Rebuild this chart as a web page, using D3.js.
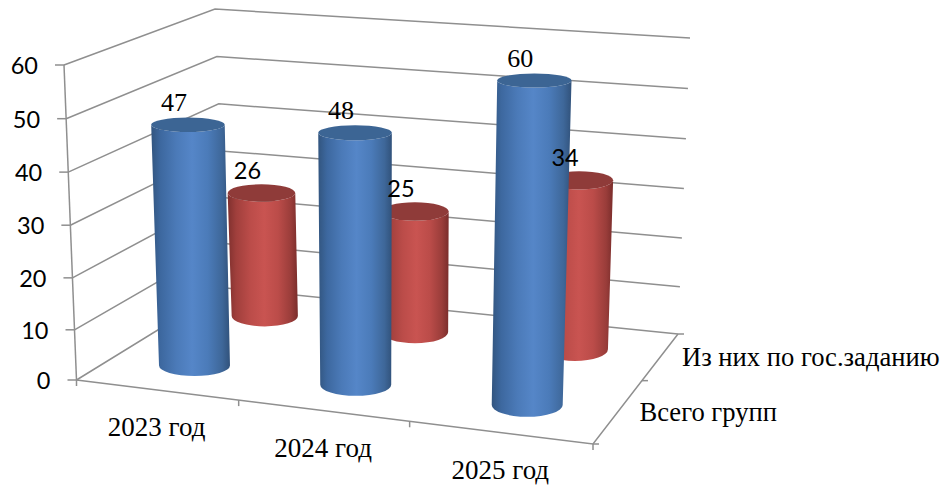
<!DOCTYPE html>
<html>
<head>
<meta charset="utf-8">
<script src="https://cdn.jsdelivr.net/npm/d3@7"></script>
<style>html,body{margin:0;padding:0;background:#fff}svg{display:block}</style>
</head>
<body>
<svg id="chart" width="942" height="486"></svg>
<script>
const categories = ["2023 год", "2024 год", "2025 год"];
const seriesNames = ["Всего групп", "Из них по гос.заданию"];
const totalGroups = [47, 48, 60];
const stateTask = [26, 25, 34];
const valueTicks = [0, 10, 20, 30, 40, 50, 60];

const serif = "'Liberation Serif'";
const sans = "Lato";

// 3D box corners on screen: [front-left, front-right, back-right, back-left]
const floorCorners = [[76.5, 380], [593, 444], [678, 334], [226, 288]];
const topCorners = [[64, 65], [604, 104], [690, 38], [215, 9]];

// Perspective-adjusted scales to unit-cube coordinates
const xScale = d3.scaleLinear().domain([0, 1, 2, 3]).range([0, 0.314, 0.645, 1]);
const zScale = d3.scaleLinear().domain([0, 1, 2]).range([0, 0.576, 1]);
const yScale = d3.scalePow().exponent(1.025).domain([0, 60]).range([0, 1]);

const lerp = (a, b, t) => [a[0] + (b[0] - a[0]) * t, a[1] + (b[1] - a[1]) * t];
function project(u, v, w) {
  const f = lerp(lerp(floorCorners[0], floorCorners[1], u), lerp(floorCorners[3], floorCorners[2], u), w);
  const t = lerp(lerp(topCorners[0], topCorners[1], u), lerp(topCorners[3], topCorners[2], u), w);
  return lerp(f, t, v);
}

const svg = d3.select("#chart");
const gridColor = "#8f8f8f";
const grid = svg.append("g").attr("fill", "none").attr("stroke", gridColor).attr("stroke-width", 1.5);
const line = d3.line();

// Wall gridlines
grid.selectAll("path.wall").data(valueTicks).join("path").attr("class", "wall")
  .attr("d", d => { const v = yScale(d); return line([project(0, v, 0), project(0, v, 1), project(1, v, 1)]); });
// Vertical axis + floor front and right edges
grid.append("path").attr("d", line([project(0, 1, 0), project(0, 0, 0)]));
grid.append("path").attr("d", line([project(0, 0, 0), project(1, 0, 0), project(1, 0, 1)]));

// Tick marks
grid.selectAll("path.vt").data(valueTicks).join("path").attr("class", "vt")
  .attr("d", d => { const p = project(0, yScale(d), 0); return line([[p[0] - 9, p[1]], p]); });
grid.selectAll("path.xt").data(d3.range(0, 4)).join("path").attr("class", "xt")
  .attr("d", d => { const p = project(xScale(d), 0, 0); return line([p, [p[0], p[1] + 6]]); });
grid.selectAll("path.zt").data(d3.range(0, 3)).join("path").attr("class", "zt")
  .attr("d", d => { const p = project(1, 0, zScale(d)); return line([p, [p[0] + 6, p[1]]]); });

// Axis text
svg.selectAll("text.vl").data(valueTicks).join("text").attr("class", "vl")
  .attr("font-family", sans).attr("font-size", 23.5).attr("fill", "#000").attr("text-anchor", "end")
  .attr("x", d => project(0, yScale(d), 0)[0] - 26)
  .attr("y", d => project(0, yScale(d), 0)[1] + 9)
  .text(d => d);
svg.selectAll("text.cl").data(categories).join("text").attr("class", "cl")
  .attr("font-family", serif).attr("font-size", 27).attr("fill", "#000").attr("text-anchor", "middle")
  .attr("x", (d, i) => project(xScale(i + 0.5), 0, 0)[0] - 1)
  .attr("y", (d, i) => project(xScale(i + 0.5), 0, 0)[1] + 46)
  .text(d => d);
svg.selectAll("text.sl").data(seriesNames).join("text").attr("class", "sl")
  .attr("font-family", serif).attr("font-size", 26.6).attr("fill", "#000")
  .attr("x", (d, i) => project(1, 0, zScale(i + 0.5))[0] + 22)
  .attr("y", (d, i) => project(1, 0, zScale(i + 0.5))[1] + 9)
  .text(d => d);

// Gradients
const defs = svg.append("defs");
function gradient(id, stops) {
  const g = defs.append("linearGradient").attr("id", id).attr("x1", 0).attr("x2", 1).attr("y1", 0).attr("y2", 0);
  stops.forEach(s => g.append("stop").attr("offset", s[0]).attr("stop-color", s[1]));
}
gradient("blueBody", [[0, "#32557f"], [0.12, "#3d689f"], [0.32, "#4b7ab8"], [0.52, "#5586c8"], [0.72, "#4b7bb9"], [0.9, "#3e6799"], [1, "#31527b"]]);
gradient("redBody", [[0, "#7f302e"], [0.12, "#a03f3c"], [0.32, "#bb4c49"], [0.52, "#c95451"], [0.72, "#bb4c49"], [0.9, "#9a3d3a"], [1, "#7a2d2b"]]);

const seriesStyles = [
  { values: totalGroups, body: "url(#blueBody)", cap: "#3c6594", depth: 0.45, center: 0.505, font: serif, size: 26, dy: -13.5 },
  { values: stateTask, body: "url(#redBody)", cap: "#8f3b39", depth: 1.48, center: 0.49, font: sans, size: 23.5, dy: -14 }
];

const radiusU = 0.071;  // cylinder radius along the category direction
const radiusZ = 0.11;   // cylinder radius along the depth direction

function cylinderGeom(catIndex, value, s) {
  const v = yScale(value), w = zScale(s.depth), u = xScale(catIndex + s.center);
  const ring = vv => {
    const c = project(u, vv, w);
    const rx = (project(u + radiusU, vv, w)[0] - project(u - radiusU, vv, w)[0]) / 2;
    const ry = Math.abs(project(u, vv, w - radiusZ)[1] - project(u, vv, w + radiusZ)[1]) / 2;
    return { c, rx, ry };
  };
  return { base: ring(0), top: ring(v) };
}

// Back row first, so the front row overlaps it
const marks = svg.append("g");
[seriesStyles[1], seriesStyles[0]].forEach(s => {
  const g = marks.append("g");
  g.selectAll("path.body").data(s.values).join("path").attr("class", "body")
    .attr("fill", s.body)
    .attr("d", (d, i) => {
      const { base: b, top: t } = cylinderGeom(i, d, s);
      return `M${t.c[0] - t.rx},${t.c[1]}L${b.c[0] - b.rx},${b.c[1]}` +
        `A${b.rx},${b.ry} 0 0 0 ${b.c[0] + b.rx},${b.c[1]}` +
        `L${t.c[0] + t.rx},${t.c[1]}A${t.rx},${t.ry} 0 0 1 ${t.c[0] - t.rx},${t.c[1]}Z`;
    });
  g.selectAll("ellipse").data(s.values).join("ellipse")
    .attr("fill", s.cap)
    .each(function (d, i) {
      const { top: t } = cylinderGeom(i, d, s);
      d3.select(this).attr("cx", t.c[0]).attr("cy", t.c[1]).attr("rx", t.rx).attr("ry", t.ry);
    });
});

// Value labels
seriesStyles.forEach(s => {
  svg.append("g").selectAll("text").data(s.values).join("text")
    .attr("font-family", s.font).attr("font-size", s.size).attr("fill", "#000").attr("text-anchor", "middle")
    .each(function (d, i) {
      const { top: t } = cylinderGeom(i, d, s);
      d3.select(this).attr("x", t.c[0] - 14).attr("y", t.c[1] + s.dy);
    })
    .text(d => d);
});
</script>
</body>
</html>
